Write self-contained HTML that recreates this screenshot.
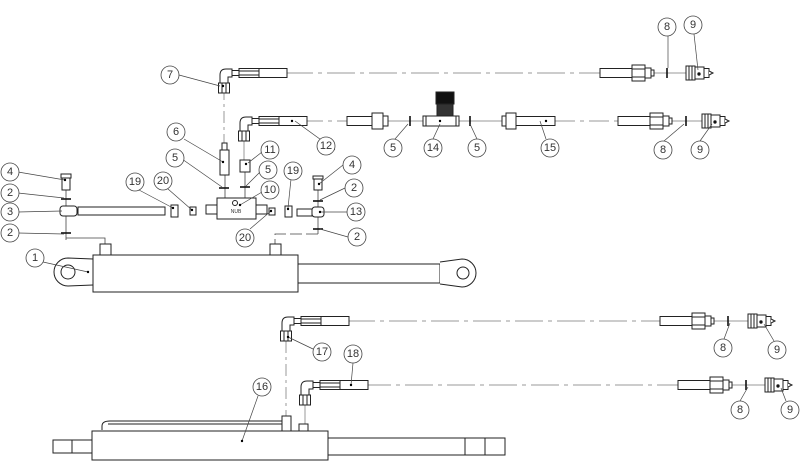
<!DOCTYPE html>
<html><head><meta charset="utf-8"><style>
html,body{margin:0;padding:0;background:#fff}
svg{display:block}
text{font-family:"Liberation Sans",sans-serif;font-size:11px;fill:#333;text-anchor:middle;dominant-baseline:central}
</style></head><body>
<svg width="800" height="461" viewBox="0 0 800 461" xmlns="http://www.w3.org/2000/svg">
<defs>
<g id="cp" fill="#fff" stroke="#222" stroke-width="1">
<rect x="0" y="-7" width="9" height="14"/><line x1="3" y1="-7" x2="3" y2="7"/><line x1="6" y1="-7" x2="6" y2="7"/>
<path d="M9 -6 H18 V6 H9 Z"/><rect x="18" y="-4.5" width="5" height="9"/><path d="M23 -2 L27 0 L23 2"/>
<circle cx="13" cy="1" r="1.2" fill="#000"/></g>
<g id="mf" fill="#fff" stroke="#222" stroke-width="1">
<rect x="0" y="-4.5" width="32" height="9"/><rect x="32" y="-8" width="13" height="16"/><line x1="32" y1="-4" x2="45" y2="-4"/><line x1="32" y1="4" x2="45" y2="4"/>
<rect x="45" y="-5" width="6" height="10"/><rect x="51" y="-3" width="3" height="6"/></g>
<g id="wa" stroke="#111" stroke-width="1.6"><line x1="0" y1="-5" x2="0" y2="5"/></g>
<g id="el" fill="#fff" stroke="#222" stroke-width="1">
<rect x="-5.5" y="10" width="11" height="10"/><line x1="-2" y1="10" x2="-2" y2="20"/><line x1="2" y1="10" x2="2" y2="20"/>
<path d="M-4 10 V2 Q-4 -4 2 -4 H8 V4 H4 V10 Z"/>
<rect x="8" y="-2.5" width="7" height="5"/><rect x="15" y="-4.5" width="20" height="9"/><line x1="15" y1="-2" x2="35" y2="-2"/><line x1="15" y1="2" x2="35" y2="2"/>
<rect x="35" y="-4.5" width="28" height="9"/></g>
</defs>
<g fill="none" stroke="#999" stroke-width="1">
<!-- dashed lines -->
<line x1="285" y1="73" x2="600" y2="73" stroke-dasharray="28,5,4,5"/>
<line x1="303" y1="121" x2="347" y2="121" stroke-dasharray="20,5,4,5"/>
<line x1="555" y1="121" x2="618" y2="121" stroke-dasharray="20,5,4,5"/>
<line x1="347" y1="321" x2="660" y2="321" stroke-dasharray="28,5,4,5"/>
<line x1="363" y1="385" x2="678" y2="385" stroke-dasharray="28,5,4,5"/>
<line x1="224" y1="88" x2="224" y2="150" stroke-dasharray="12,4,3,4"/>
<line x1="244" y1="139" x2="244" y2="160"/>
<line x1="286" y1="341" x2="286" y2="416" stroke-dasharray="12,4,3,4"/>
<line x1="305" y1="404" x2="305" y2="424"/>
<line x1="386" y1="121" x2="423" y2="121"/><line x1="459" y1="121" x2="502" y2="121"/>
<line x1="660" y1="121" x2="702" y2="121"/><line x1="652" y1="73" x2="686" y2="73"/>
<line x1="705" y1="321" x2="748" y2="321"/><line x1="720" y1="385" x2="765" y2="385"/>
</g>
<g fill="none" stroke="#444" stroke-width="0.8">
<line x1="66" y1="190" x2="66" y2="240"/><path d="M66 238 H105 V244"/>
<line x1="318" y1="190" x2="318" y2="234"/><path d="M318 234 H275 V244" stroke-dasharray="12,4"/>
<line x1="225" y1="175" x2="225" y2="198"/><line x1="245" y1="172" x2="245" y2="198"/>
</g>
<!-- top hose row -->
<use href="#el" x="224" y="73"/>
<use href="#mf" x="600" y="73"/><use href="#wa" x="667" y="73"/><use href="#cp" x="686" y="73"/>
<!-- row 2 -->
<use href="#el" x="244" y="121"/><circle cx="292" cy="121" r="1.2"/>
<g fill="#fff" stroke="#222">
<rect x="347" y="116.5" width="25" height="9"/><rect x="372" y="113" width="11" height="16"/><rect x="383" y="116" width="5" height="10"/>
<rect x="423" y="116" width="36" height="10"/><line x1="426" y1="116" x2="426" y2="126"/><line x1="456" y1="116" x2="456" y2="126"/>
<rect x="437" y="104" width="16" height="12" fill="#333"/><rect x="436" y="92" width="18" height="12" fill="#111"/>
<rect x="502" y="116" width="4" height="10"/><rect x="506" y="113" width="10" height="16"/><rect x="516" y="116.5" width="39" height="9"/>
</g>
<use href="#wa" x="410" y="121"/><use href="#wa" x="470" y="121"/>
<use href="#mf" x="618" y="121"/><use href="#wa" x="686" y="121"/><use href="#cp" x="702" y="121"/>
<!-- left assembly -->
<g fill="#fff" stroke="#222">
<rect x="62" y="176" width="8" height="14"/><rect x="61" y="174" width="10" height="4"/>
<rect x="60" y="206" width="17" height="10" rx="3"/><rect x="78" y="207" width="87" height="8"/>
<rect x="171" y="205" width="7" height="12"/><rect x="190" y="207" width="6" height="8"/>
<rect x="220" y="150" width="9" height="25"/><rect x="222" y="143" width="5" height="7"/>
<rect x="240" y="160" width="10" height="12"/>
<rect x="206" y="205" width="11" height="9"/><rect x="217" y="198" width="39" height="21"/><rect x="256" y="205" width="11" height="9"/>
<circle cx="235" cy="203" r="2.5"/>
<rect x="269" y="208" width="6" height="7"/><rect x="285" y="206" width="7" height="11"/>
<rect x="297" y="209" width="15" height="7"/><rect x="312" y="207" width="12" height="10" rx="3"/>
<rect x="314" y="178" width="8" height="12"/><rect x="313" y="176" width="10" height="3"/>
</g>
<text x="236" y="212" style="font-size:5px">NUB</text>
<use href="#wa" x="0" y="0" transform="translate(66,199) rotate(90)"/>
<use href="#wa" transform="translate(66,233) rotate(90)"/>
<use href="#wa" transform="translate(224,188) rotate(90)"/>
<use href="#wa" transform="translate(245,187) rotate(90)"/>
<use href="#wa" transform="translate(318,201) rotate(90)"/>
<use href="#wa" transform="translate(318,229) rotate(90)"/>
<!-- cylinder 1 -->
<g fill="#fff" stroke="#222">
<rect x="100" y="244" width="11" height="11"/><rect x="270" y="244" width="11" height="11"/>
<path d="M93 259 L68 258 A14 14 0 0 0 68 286 L93 285"/><circle cx="68" cy="272" r="7"/>
<rect x="93" y="255" width="205" height="37"/>
<rect x="298" y="264" width="142" height="19"/>
<path d="M440 262 L462 259 A14 14 0 0 1 462 287 L440 284"/><circle cx="463" cy="273" r="6"/>
</g>
<!-- cylinder 16 -->
<use href="#el" x="286" y="321"/><use href="#el" x="305" y="385"/>
<use href="#mf" x="660" y="321"/><use href="#wa" x="728" y="321"/><use href="#cp" x="748" y="321"/>
<use href="#mf" x="678" y="385"/><use href="#wa" x="746" y="385"/><use href="#cp" x="765" y="385"/>
<g fill="#fff" stroke="#222">
<path d="M102 430 V426 Q102 421 110 421 H283 V430"/><line x1="108" y1="424" x2="283" y2="424"/>
<rect x="282" y="416" width="9" height="15"/><rect x="299" y="424" width="9" height="7"/>
<rect x="53" y="440" width="39" height="13"/><line x1="72" y1="440" x2="72" y2="453"/>
<rect x="92" y="431" width="236" height="29"/>
<rect x="328" y="438" width="137" height="17"/><rect x="465" y="438" width="40" height="17"/><line x1="485" y1="438" x2="485" y2="455"/>
</g>
<!-- leaders -->
<g stroke="#444" stroke-width="0.7" fill="none">
<path d="M179 75 L220 86"/><path d="M335 150 L295 121"/><path d="M395 139 L408 124"/><path d="M433 139 L440 124"/><path d="M477 139 L470 124"/><path d="M546 139 L540 121"/>
<path d="M668 36 L668 68"/><path d="M694 34 L698 70"/><path d="M664 141 L684 124"/><path d="M700 141 L712 124"/>
<path d="M18 172 L65 180"/><path d="M18 193 L64 198"/><path d="M18 212 L62 211"/><path d="M18 233 L64 234"/><path d="M43 262 L88 272"/>
<path d="M139 190 L173 208"/><path d="M168 189 L192 210"/><path d="M184 139 L223 162"/><path d="M182 159 L222 187"/>
<path d="M262 152 L248 163"/><path d="M260 172 L246 186"/><path d="M262 192 L240 205"/><path d="M250 229 L271 211"/><path d="M291 179 L288 208"/>
<path d="M343 165 L319 184"/><path d="M345 188 L320 200"/><path d="M347 212 L320 212"/><path d="M348 237 L320 229"/>
<path d="M313 349 L288 337"/><path d="M353 363 L351 385"/><path d="M258 396 L242 441"/>
<path d="M724 339 L730 323"/><path d="M774 341 L764 324"/><path d="M740 401 L748 387"/><path d="M786 401 L781 388"/>
</g>
<g fill="#000">
<circle cx="223" cy="86" r="1.2"/><circle cx="546" cy="121" r="1.2"/><circle cx="440" cy="121" r="1.2"/><circle cx="65" cy="180" r="1.2"/><circle cx="88" cy="272" r="1.2"/><circle cx="173" cy="208" r="1.2"/><circle cx="192" cy="210" r="1.2"/><circle cx="223" cy="162" r="1.2"/><circle cx="246" cy="164" r="1.2"/><circle cx="240" cy="205" r="1.2"/><circle cx="271" cy="211" r="1.2"/><circle cx="288" cy="209" r="1.2"/><circle cx="319" cy="184" r="1.2"/><circle cx="320" cy="212" r="1.2"/><circle cx="288" cy="337" r="1.2"/><circle cx="351" cy="385" r="1.2"/><circle cx="242" cy="441" r="1.2"/>
</g>
<!-- balloons -->
<g fill="#fff" stroke="#444" stroke-width="0.8">
<circle cx="170" cy="75" r="9"/><circle cx="326" cy="146" r="9"/><circle cx="393" cy="148" r="9"/><circle cx="433" cy="148" r="9"/><circle cx="477" cy="148" r="9"/><circle cx="550" cy="148" r="9"/>
<circle cx="667" cy="27" r="9"/><circle cx="693" cy="25" r="9"/><circle cx="663" cy="150" r="9"/><circle cx="700" cy="150" r="9"/>
<circle cx="10" cy="172" r="9"/><circle cx="10" cy="193" r="9"/><circle cx="10" cy="212" r="9"/><circle cx="10" cy="233" r="9"/><circle cx="35" cy="258" r="9"/>
<circle cx="135" cy="182" r="9"/><circle cx="163" cy="181" r="9"/><circle cx="175" cy="158" r="9"/><circle cx="176" cy="132" r="9"/>
<circle cx="270" cy="150" r="9"/><circle cx="268" cy="170" r="9"/><circle cx="270" cy="190" r="9"/><circle cx="245" cy="238" r="9"/><circle cx="293" cy="171" r="9"/>
<circle cx="352" cy="165" r="9"/><circle cx="354" cy="188" r="9"/><circle cx="356" cy="212" r="9"/><circle cx="357" cy="237" r="9"/>
<circle cx="322" cy="352" r="9"/><circle cx="353" cy="354" r="9"/><circle cx="262" cy="387" r="9"/>
<circle cx="723" cy="348" r="9"/><circle cx="777" cy="350" r="9"/><circle cx="740" cy="410" r="9"/><circle cx="790" cy="410" r="9"/>
</g>
<text x="170" y="75">7</text><text x="326" y="146">12</text><text x="393" y="148">5</text><text x="433" y="148">14</text><text x="477" y="148">5</text><text x="550" y="148">15</text>
<text x="667" y="27">8</text><text x="693" y="25">9</text><text x="663" y="150">8</text><text x="700" y="150">9</text>
<text x="10" y="172">4</text><text x="10" y="193">2</text><text x="10" y="212">3</text><text x="10" y="233">2</text><text x="35" y="258">1</text>
<text x="135" y="182">19</text><text x="163" y="181">20</text><text x="175" y="158">5</text><text x="176" y="132">6</text>
<text x="270" y="150">11</text><text x="268" y="170">5</text><text x="270" y="190">10</text><text x="245" y="238">20</text><text x="293" y="171">19</text>
<text x="352" y="165">4</text><text x="354" y="188">2</text><text x="356" y="212">13</text><text x="357" y="237">2</text>
<text x="322" y="352">17</text><text x="353" y="354">18</text><text x="262" y="387">16</text>
<text x="723" y="348">8</text><text x="777" y="350">9</text><text x="740" y="410">8</text><text x="790" y="410">9</text>
</svg>
</body></html>
